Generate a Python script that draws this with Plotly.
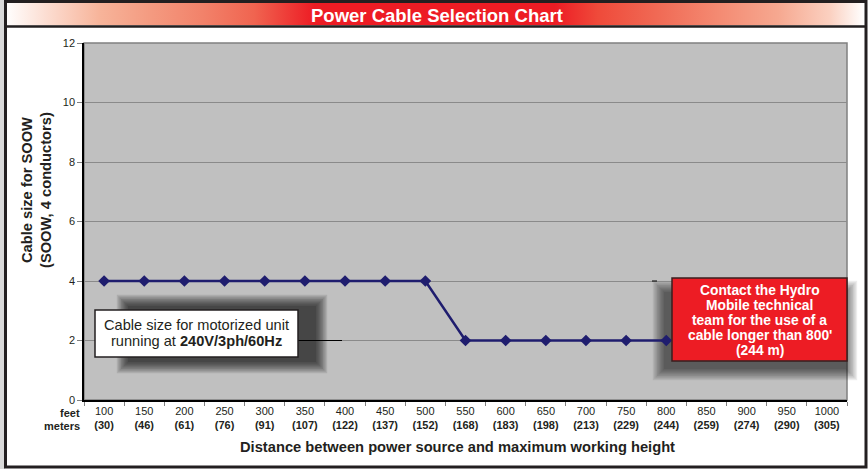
import plotly.graph_objects as go

# Cable run length categories (feet) with metric equivalents
feet = [100, 150, 200, 250, 300, 350, 400, 450, 500, 550,
        600, 650, 700, 750, 800, 850, 900, 950, 1000]
meters = [30, 46, 61, 76, 91, 107, 122, 137, 152, 168,
          183, 198, 213, 229, 244, 259, 274, 290, 305]
# Recommended SOOW cable size up to 800 ft
cable_feet = [100, 150, 200, 250, 300, 350, 400, 450, 500, 550,
              600, 650, 700, 750, 800]
cable_size = [4, 4, 4, 4, 4, 4, 4, 4, 4, 2, 2, 2, 2, 2, 2]
y_ticks = [0, 2, 4, 6, 8, 10, 12]

note_lines = ["Cable size for motorized unit", "running at <b>240V/3ph/60Hz</b>"]
contact_lines = ["Contact the Hydro", "Mobile technical", "team for the use of a",
                 "cable longer than 800'", "(244 m)"]

W, H = 868, 469
FONT = "Liberation Sans, Arial, sans-serif"
RED = "#ED1C24"
DARK = "#231F20"


def px(x):
    return x / W


def py(y):
    return 1 - y / H


categories = [str(f) for f in feet]
tick_text = [f"{f}<br><b>({m})</b>" for f, m in zip(feet, meters)]

fig = go.Figure()

# Main cable-size line
fig.add_trace(go.Scatter(
    x=[str(f) for f in cable_feet], y=cable_size,
    mode="lines+markers",
    line=dict(color="#1F1D6E", width=2.5),
    marker=dict(symbol="diamond", size=9, color="#1F1D6E"),
    xaxis="x", yaxis="y", showlegend=False, hoverinfo="skip",
))

# Title banner with horizontal red gradient
fig.add_trace(go.Scatter(
    x=[0, 1, 1, 0, 0], y=[0, 0, 1, 1, 0],
    mode="lines", line=dict(width=0),
    fill="toself",
    fillgradient=dict(
        type="horizontal",
        colorscale=[[0, "#FFFFFF"], [0.05, "#FCDCD0"], [0.11, "#F7B49A"],
                    [0.17, "#F49A80"], [0.23, "#F2826A"], [0.29, "#F06450"],
                    [0.36, RED], [0.64, RED], [0.69, "#EF4A3A"],
                    [0.76, "#F06A55"], [0.83, "#F48A72"], [0.90, "#F6A890"],
                    [0.96, "#FBD0C0"], [1, "#FFFFFF"]],
    ),
    xaxis="x2", yaxis="y2", showlegend=False, hoverinfo="skip",
))

shapes = []

# light strip at left edge
shapes.append(dict(type="rect", xref="paper", yref="paper",
                   x0=0, x1=px(5), y0=0, y1=1,
                   fillcolor="#D9D9D9", line=dict(width=0), layer="below"))

# plot-area border (top / right in grey)
shapes.append(dict(type="rect", xref="x domain", yref="y domain",
                   x0=0, x1=1, y0=0, y1=1,
                   line=dict(color="#808080", width=1.5), layer="below"))


def soft_shadow(x0, y0, x1, y1, steps=9, spread=1.4, alpha=0.085):
    """Stack of translucent rectangles that fades outward like a blurred drop shadow."""
    out = []
    for k in range(steps):
        d = (steps - 1 - k) * spread
        out.append(dict(type="rect", xref="paper", yref="paper",
                        x0=px(x0 - d), x1=px(x1 + d),
                        y0=py(y1 + d), y1=py(y0 - d),
                        fillcolor=f"rgba(0,0,0,{alpha})",
                        line=dict(width=0), layer="between"))
    return out


shapes += soft_shadow(128, 306, 316, 362, alpha=0.1)
shapes += soft_shadow(664, 292, 846, 369, alpha=0.075)

# leader lines
shapes.append(dict(type="line", xref="paper", yref="y",
                   x0=px(298), x1=px(342), y0=2, y1=2,
                   line=dict(color="black", width=1), layer="above"))
shapes.append(dict(type="line", xref="paper", yref="y",
                   x0=px(652), x1=px(657), y0=4, y1=4,
                   line=dict(color="black", width=1), layer="above"))

# note boxes
shapes.append(dict(type="rect", xref="paper", yref="paper",
                   x0=px(95), x1=px(298), y0=py(357), y1=py(310),
                   fillcolor="white", line=dict(color=DARK, width=1.5),
                   layer="above"))
shapes.append(dict(type="rect", xref="paper", yref="paper",
                   x0=px(672), x1=px(847), y0=py(361), y1=py(278),
                   fillcolor=RED, line=dict(color="#3A1E1E", width=1.5),
                   layer="above"))

# outer frame and banner underline
shapes.append(dict(type="rect", xref="paper", yref="paper",
                   x0=px(5.5), x1=px(866), y0=py(467), y1=py(1.5),
                   line=dict(color=DARK, width=3), layer="above"))
shapes.append(dict(type="line", xref="paper", yref="paper",
                   x0=px(5), x1=px(866), y0=py(26.5), y1=py(26.5),
                   line=dict(color=DARK, width=2.5), layer="above"))

annotations = [
    dict(text="<b>Power Cable Selection Chart</b>", xref="paper", yref="paper",
         x=px(437), y=py(15), xanchor="center", yanchor="middle",
         showarrow=False, font=dict(family=FONT, size=18.5, color="white")),
    dict(text="<b>Cable size for SOOW<br>(SOOW, 4 conductors)</b>",
         xref="paper", yref="paper", x=px(36), y=py(190),
         xanchor="center", yanchor="middle", textangle=-90, showarrow=False,
         font=dict(family=FONT, size=14.7, color=DARK)),
    dict(text="<b>Distance between power source and maximum working height</b>",
         xref="paper", yref="paper", x=px(457), y=py(447),
         xanchor="center", yanchor="middle", showarrow=False,
         font=dict(family=FONT, size=14.7, color=DARK)),
    dict(text="<b>feet</b>", xref="paper", yref="paper", x=px(82), y=py(413),
         xanchor="right", yanchor="middle", showarrow=False,
         font=dict(family=FONT, size=11, color=DARK)),
    dict(text="<b>meters</b>", xref="paper", yref="paper", x=px(82), y=py(426),
         xanchor="right", yanchor="middle", showarrow=False,
         font=dict(family=FONT, size=11, color=DARK)),
]

for i, line in enumerate(note_lines):
    annotations.append(dict(
        text=line, xref="paper", yref="paper",
        x=px(196.5), y=py(325 + 16 * i), xanchor="center", yanchor="middle",
        showarrow=False, font=dict(family=FONT, size=14.6, color=DARK)))

for i, line in enumerate(contact_lines):
    annotations.append(dict(
        text=f"<b>{line}</b>", xref="paper", yref="paper",
        x=px(759.5), y=py(290 + 15 * i), xanchor="center", yanchor="middle",
        showarrow=False, font=dict(family=FONT, size=13.8, color="white")))

fig.update_layout(
    width=W, height=H, autosize=False,
    margin=dict(l=0, r=0, t=0, b=0, autoexpand=False),
    paper_bgcolor="white",
    plot_bgcolor="#C0C0C0",
    font=dict(family=FONT, size=11, color=DARK),
    showlegend=False,
    xaxis=dict(
        domain=[px(84), px(847)], anchor="y", automargin=False,
        type="category", categoryorder="array", categoryarray=categories,
        range=[-0.5, len(categories) - 0.5],
        tickvals=categories, ticktext=tick_text,
        ticks="outside", tickson="boundaries", ticklen=4,
        tickcolor="#808080", tickwidth=1,
        showline=True, linecolor="black", linewidth=1.5,
        showgrid=False, zeroline=False,
        tickfont=dict(family=FONT, size=11, color=DARK),
    ),
    yaxis=dict(
        domain=[py(400), py(43)], anchor="x", automargin=False,
        range=[0, 12], tickvals=y_ticks,
        ticks="outside", ticklen=5, tickcolor="#808080",
        showline=True, linecolor="black", linewidth=1.5,
        showgrid=True, gridcolor="#8A8A8A", gridwidth=1,
        zeroline=False,
        tickfont=dict(family=FONT, size=11, color=DARK),
    ),
    xaxis2=dict(domain=[px(5), px(864)], anchor="y2", range=[0, 1],
                visible=False, fixedrange=True, automargin=False),
    yaxis2=dict(domain=[py(25.5), py(3)], anchor="x2", range=[0, 1],
                visible=False, fixedrange=True, automargin=False),
    shapes=shapes,
    annotations=annotations,
)

fig.write_html("out.html")
